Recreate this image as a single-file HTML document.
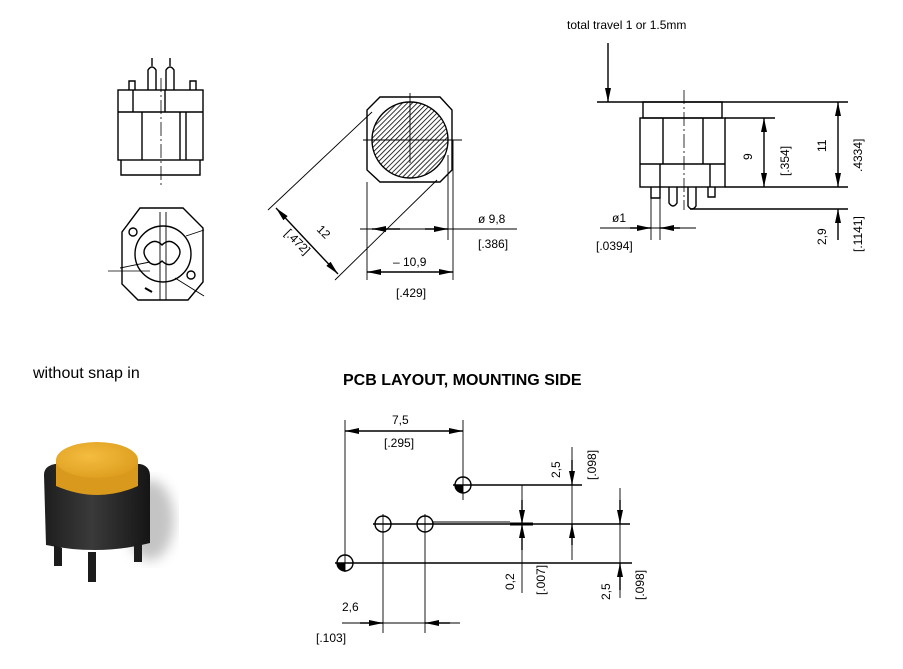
<!DOCTYPE html>
<html><head><meta charset="utf-8"><style>
html,body{margin:0;padding:0;background:#fff;}
svg{display:block;font-family:"Liberation Sans",sans-serif;}
</style></head><body>
<svg width="903" height="669" viewBox="0 0 903 669" xmlns="http://www.w3.org/2000/svg">
<defs>
<marker id="a" viewBox="0 0 14 6" refX="14" refY="3" markerWidth="14" markerHeight="6" markerUnits="userSpaceOnUse" orient="auto"><path d="M0,0 L14,3 L0,6 z" fill="#000"/></marker>
<pattern id="h" width="3.5" height="3.5" patternUnits="userSpaceOnUse" patternTransform="rotate(45)"><line x1="0" y1="0" x2="0" y2="3.5" stroke="#000" stroke-width="1.6"/></pattern>
<radialGradient id="cap" cx="0.4" cy="0.4" r="0.7"><stop offset="0" stop-color="#f4bc40"/><stop offset="1" stop-color="#dc9c1c"/></radialGradient>
<linearGradient id="bd" x1="0" x2="1"><stop offset="0" stop-color="#1e1e1e"/><stop offset="0.45" stop-color="#3a3a3a"/><stop offset="1" stop-color="#151515"/></linearGradient>
<filter id="bl"><feGaussianBlur stdDeviation="6"/></filter>
</defs>
<g fill="none" stroke="#000" stroke-width="1.4">
<!-- side view top-left -->
<rect x="118" y="90" width="85" height="70"/>
<line x1="118" y1="112" x2="203" y2="112"/>
<line x1="133" y1="90" x2="133" y2="112"/><line x1="142" y1="112" x2="142" y2="160"/>
<line x1="180" y1="112" x2="180" y2="160"/><line x1="186" y1="112" x2="186" y2="160"/>
<line x1="165" y1="90" x2="165" y2="112"/>
<path d="M121,160 V175 H200 V160"/>
<path d="M129,90 V81 H135 V90 M190,90 V81 H196 V90"/>
<path d="M148,90 V70 Q152,64 156,70 V90 M166,90 V70 Q170,64 174,70 V90"/>
<line x1="152" y1="58" x2="152" y2="66"/><line x1="170" y1="58" x2="170" y2="66"/>
<line x1="161" y1="78" x2="161" y2="186" stroke-width="0.8" stroke-dasharray="14,3,2,3"/>
<!-- bottom view -->
<path d="M140,208 H183 L203,228 V282 L188,300 H138 L122,284 V232 Z"/>
<circle cx="163" cy="254" r="28"/>
<path d="M150,243 q-12,8 0,20 q6,4 12,-2 q6,6 12,2 q12,-12 0,-20 q-6,-4 -12,2 q-6,-6 -12,-2z"/>
<path d="M160,212 V300 M166,212 V300" stroke-width="0.9"/>
<path d="M120,268 L150,262 M186,236 L204,230 M175,278 L204,296" stroke-width="0.9"/>
<circle cx="133" cy="232" r="4"/><circle cx="191" cy="275" r="4"/>
<line x1="145" y1="288" x2="152" y2="292" stroke-width="2"/>
<line x1="108" y1="271" x2="150" y2="271" stroke-width="0.8"/>
<!-- center plan view -->
<path d="M380,97 H440 L452,110 V170 L440,182 H380 L367,170 V110 Z"/>
<circle cx="410" cy="140" r="38" fill="url(#h)"/>
<line x1="363" y1="140" x2="462" y2="140" stroke-width="0.9"/>
<line x1="410" y1="93" x2="410" y2="163" stroke-width="0.9"/>
<line x1="367" y1="182" x2="367" y2="280" stroke-width="0.9"/>
<line x1="453" y1="140" x2="453" y2="280" stroke-width="0.9"/>
<line x1="448" y1="155" x2="448" y2="240" stroke-width="0.9"/>
<line x1="372" y1="112" x2="268" y2="210" stroke-width="0.9"/>
<line x1="437" y1="180" x2="335" y2="280" stroke-width="0.9"/>
<line x1="360" y1="229" x2="517" y2="229" stroke-width="0.9"/>
<line x1="400" y1="229" x2="372" y2="229" marker-end="url(#a)"/>
<line x1="425" y1="229" x2="448" y2="229" marker-end="url(#a)"/>
<line x1="410" y1="272" x2="367" y2="272" marker-end="url(#a)"/>
<line x1="410" y1="272" x2="453" y2="272" marker-end="url(#a)"/>
<line x1="306" y1="240" x2="276" y2="208" marker-end="url(#a)"/>
<line x1="306" y1="240" x2="338" y2="274" marker-end="url(#a)"/>
<!-- right side view -->
<line x1="608" y1="43" x2="608" y2="102" marker-end="url(#a)"/>
<line x1="597" y1="102" x2="848" y2="102"/>
<rect x="643" y="102" width="79" height="16"/>
<rect x="640" y="118" width="85" height="69"/>
<line x1="725" y1="118" x2="775" y2="118"/>
<line x1="663" y1="118" x2="663" y2="164"/><line x1="703" y1="118" x2="703" y2="164"/>
<line x1="640" y1="164" x2="725" y2="164"/>
<line x1="660" y1="164" x2="660" y2="187"/><line x1="710" y1="164" x2="710" y2="187"/>
<line x1="684" y1="90" x2="684" y2="210" stroke-width="0.8" stroke-dasharray="14,3,2,3"/>
<line x1="725" y1="187" x2="848" y2="187"/>
<line x1="690" y1="209" x2="848" y2="209"/>
<path d="M651,187 V198 H660 V187 M708,187 V197 H715 V187"/>
<path d="M669,187 V203 Q673,209 677,203 V187 M688,187 V206 Q692,212 696,206 V187"/>
<line x1="651" y1="198" x2="651" y2="240" stroke-width="0.9"/><line x1="660" y1="198" x2="660" y2="240" stroke-width="0.9"/>
<line x1="600" y1="228" x2="696" y2="228" stroke-width="0.9"/>
<line x1="630" y1="228" x2="651" y2="228" marker-end="url(#a)"/>
<line x1="680" y1="228" x2="660" y2="228" marker-end="url(#a)"/>
<line x1="764" y1="150" x2="764" y2="118" marker-end="url(#a)"/>
<line x1="764" y1="150" x2="764" y2="187" marker-end="url(#a)"/>
<line x1="838" y1="145" x2="838" y2="102" marker-end="url(#a)"/>
<line x1="838" y1="145" x2="838" y2="187" marker-end="url(#a)"/>
<line x1="838" y1="240" x2="838" y2="209" marker-end="url(#a)"/>
<!-- PCB -->
<line x1="345" y1="420" x2="345" y2="572" stroke-width="0.9"/>
<line x1="463" y1="420" x2="463" y2="500" stroke-width="0.9"/>
<line x1="400" y1="431" x2="345" y2="431" marker-end="url(#a)"/>
<line x1="400" y1="431" x2="463" y2="431" marker-end="url(#a)"/>
<circle cx="463" cy="485" r="8"/><line x1="453" y1="485" x2="582" y2="485"/>
<circle cx="383" cy="524" r="8"/><circle cx="425" cy="524" r="8"/>
<line x1="373" y1="524" x2="630" y2="524"/>
<line x1="433" y1="522" x2="510" y2="522" stroke-width="0.9"/>
<line x1="510" y1="524" x2="533" y2="524" stroke-width="3"/>
<circle cx="345" cy="563" r="8"/><line x1="335" y1="563" x2="632" y2="563"/>
<line x1="383" y1="514" x2="383" y2="633" stroke-width="0.9"/>
<line x1="425" y1="514" x2="425" y2="633" stroke-width="0.9"/>
<line x1="342" y1="623" x2="460" y2="623" stroke-width="0.9"/>
<line x1="360" y1="623" x2="383" y2="623" marker-end="url(#a)"/>
<line x1="450" y1="623" x2="425" y2="623" marker-end="url(#a)"/>
<line x1="522" y1="485" x2="522" y2="593" stroke-width="0.9"/>
<line x1="522" y1="500" x2="522" y2="524" marker-end="url(#a)"/>
<line x1="522" y1="550" x2="522" y2="524" marker-end="url(#a)"/>
<line x1="572" y1="447" x2="572" y2="560" stroke-width="0.9"/>
<line x1="572" y1="460" x2="572" y2="485" marker-end="url(#a)"/>
<line x1="572" y1="545" x2="572" y2="524" marker-end="url(#a)"/>
<line x1="620" y1="488" x2="620" y2="598" stroke-width="0.9"/>
<line x1="620" y1="500" x2="620" y2="524" marker-end="url(#a)"/>
<line x1="620" y1="590" x2="620" y2="563" marker-end="url(#a)"/>
</g>
<path d="M463,485 h-8 a8,8 0 0 0 8,8z M345,563 h-8 a8,8 0 0 0 8,8z" fill="#000"/>
<!-- photo -->
<ellipse cx="150" cy="520" rx="24" ry="40" fill="#c4c4c4" filter="url(#bl)"/>
<path d="M44,475 Q44,466 55,464 H140 Q150,466 150,476 V543 Q100,556 46,545 Z" fill="url(#bd)"/>
<path d="M54,545 V566 H62 V548 Z M134,543 V562 H142 V543 Z M88,552 V582 H96 V552 Z" fill="#1c1c1c"/>
<path d="M56,460 V486 Q98,504 138,486 V460 Z" fill="#d9991c"/>
<ellipse cx="97" cy="460" rx="41" ry="18" fill="url(#cap)"/>
<!-- texts -->
<g font-size="12" fill="#000">
<text x="567" y="29" font-size="12">total travel 1 or 1.5mm</text>
<text x="478" y="223">ø 9,8</text><text x="478" y="248">[.386]</text>
<text x="393" y="266">– 10,9</text><text x="396" y="297">[.429]</text>
<text transform="translate(316,230) rotate(45)">12</text>
<text transform="translate(284,234) rotate(45)">[.472]</text>
<text x="612" y="222">ø1</text><text x="596" y="250">[.0394]</text>
<text transform="translate(752,160) rotate(-90)">9</text>
<text transform="translate(789,176) rotate(-90)">[.354]</text>
<text transform="translate(826,152) rotate(-90)">11</text>
<text transform="translate(862,172) rotate(-90)">.4334]</text>
<text transform="translate(826,245) rotate(-90)">2,9</text>
<text transform="translate(862,252) rotate(-90)">[.1141]</text>
<text x="392" y="424">7,5</text><text x="384" y="447">[.295]</text>
<text transform="translate(560,478) rotate(-90)">2,5</text>
<text transform="translate(596,480) rotate(-90)">[.098]</text>
<text transform="translate(514,590) rotate(-90)">0,2</text>
<text transform="translate(545,595) rotate(-90)">[.007]</text>
<text transform="translate(610,600) rotate(-90)">2,5</text>
<text transform="translate(644,600) rotate(-90)">[.098]</text>
<text x="342" y="611">2,6</text><text x="316" y="642">[.103]</text>
</g>
<text x="33" y="378" font-size="16">without snap in</text>
<text x="343" y="385" font-size="16" font-weight="bold">PCB LAYOUT, MOUNTING SIDE</text>
</svg>
</body></html>
